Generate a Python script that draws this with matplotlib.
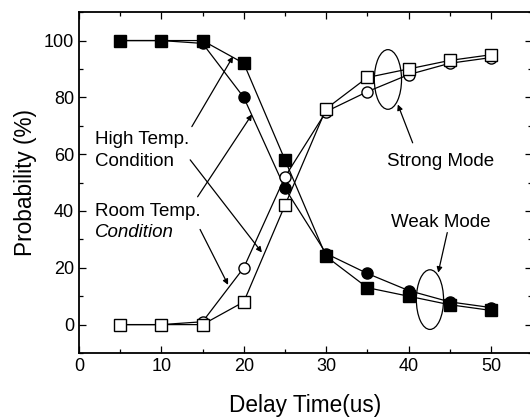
import numpy as np
import matplotlib
matplotlib.use('Agg')
import matplotlib.pyplot as plt
from matplotlib.patches import Ellipse
from matplotlib.ticker import MultipleLocator

plt.rcParams['font.family'] = ['Liberation Sans', 'DejaVu Sans']

delay = [5, 10, 15, 20, 25, 30, 35, 40, 45, 50]
high_weak = [100, 100, 100, 92, 58, 24, 13, 10, 7, 5]
room_weak = [100, 100, 99, 80, 48, 25, 18, 12, 8, 6]
high_strong = [0, 0, 0, 8, 42, 76, 87, 90, 93, 95]
room_strong = [0, 0, 1, 20, 52, 75, 82, 88, 92, 94]

fig = plt.figure(figsize=(5.3, 4.19), dpi=100)
ax = fig.add_axes([0.149, 0.1575, 0.855, 0.8135])

ms = 8
ax.plot(delay, high_weak, 's-', color='black', mfc='black', ms=ms, lw=0.9)
ax.plot(delay, room_weak, 'o-', color='black', mfc='black', ms=ms, lw=0.9)
ax.plot(delay, room_strong, 'o-', color='black', mfc='white', ms=ms, lw=0.9)
ax.plot(delay, high_strong, 's-', color='black', mfc='white', ms=ms, lw=0.9)

ax.set_xlim(0, 55)
ax.set_ylim(-10, 110)
ax.xaxis.set_major_locator(MultipleLocator(10))
ax.xaxis.set_minor_locator(MultipleLocator(5))
ax.yaxis.set_major_locator(MultipleLocator(20))
ax.yaxis.set_minor_locator(MultipleLocator(10))
ax.tick_params(which='both', direction='in', top=True, right=True, labelsize=13, width=0.9)
ax.tick_params(which='major', length=5)
ax.tick_params(which='minor', length=3)
for s in ax.spines.values():
    s.set_linewidth(1.3)

ax.set_xlabel('Delay Time(us)', fontsize=16.3, labelpad=14)
ax.set_ylabel('Probability (%)', fontsize=16.3, labelpad=5)

arrow = dict(arrowstyle='-|>', color='black', lw=0.9, mutation_scale=8, shrinkA=0, shrinkB=0)
fs = 13.5

ax.text(1.9, 65, 'High Temp.', fontsize=fs, va='center')
ax.text(1.9, 57.4, 'Condition', fontsize=fs, va='center')
ax.annotate('', xy=(18.7, 94.4), xytext=(13.7, 69.7), arrowprops=arrow)
ax.annotate('', xy=(22.2, 25.4), xytext=(13.5, 58), arrowprops=arrow)

ax.text(1.9, 39.8, 'Room Temp.', fontsize=fs, va='center')
ax.text(1.9, 32.4, 'Condition', fontsize=fs, va='center', style='italic')
ax.annotate('', xy=(21, 74), xytext=(14.4, 45), arrowprops=arrow)
ax.annotate('', xy=(18.1, 14), xytext=(14.7, 33.5), arrowprops=arrow)

ax.add_patch(Ellipse((37.5, 86.3), 3.3, 21, fill=False, color='black', lw=0.9))
ax.text(43.9, 57.4, 'Strong Mode', fontsize=fs, ha='center', va='center')
ax.annotate('', xy=(38.7, 77.5), xytext=(40.5, 64), arrowprops=arrow)

ax.add_patch(Ellipse((42.6, 8.8), 3.3, 21, fill=False, color='black', lw=0.9))
ax.text(43.9, 36, 'Weak Mode', fontsize=fs, ha='center', va='center')
ax.annotate('', xy=(43.6, 18.3), xytext=(44.7, 32.4), arrowprops=arrow)

fig.savefig('out.png', dpi=100)
